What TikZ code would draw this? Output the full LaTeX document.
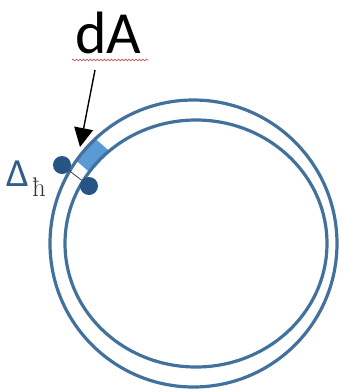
\documentclass[tikz,border=0pt]{standalone}
\usepackage{fontspec}
\newfontfamily\carlito{Carlito}
\newfontfamily\lmroman{Latin Modern Roman}
\usetikzlibrary{arrows.meta,decorations.pathmorphing}
\definecolor{ringblue}{RGB}{65,113,156}
\definecolor{dotblue}{RGB}{38,84,132}
\definecolor{rectblue}{RGB}{91,155,213}
\definecolor{deltablue}{RGB}{50,92,138}
\definecolor{squig}{RGB}{205,85,95}
\tikzset{
  ring/.style={draw=ringblue, line width=3.2bp},
  dotnode/.style={circle, fill=dotblue, minimum size=18bp, inner sep=0pt},
  pointer/.style={line width=1.4bp, -{Triangle[length=19bp,width=19bp]}},
}
\begin{document}
\begin{tikzpicture}[x=1bp,y=-1bp]
\useasboundingbox (0,0) rectangle (343,392);
% surface element
\fill[rectblue] (95.54,138.92) -- (109.08,150.78) -- (89.96,172.58) -- (76.42,160.72) -- cycle;
% rings
\draw[ring] (193.5,243.5) circle[radius=143.5];
\draw[ring] (196,243.5) ellipse[x radius=131, y radius=123.5];
% dots and thickness
\node[dotnode] (d1) at (62,165) {};
\node[dotnode] (d2) at (89,186) {};
\draw[line width=0.8bp, black!75] (d1) -- (d2);
% label dA
\node[anchor=base, inner sep=0pt, font=\carlito\fontsize{60}{60}\selectfont] (dA) at (108,53) {dA};
\draw[squig, line width=0.7bp, decorate, decoration={snake, amplitude=0.9bp, segment length=3.5bp}] (72,60) -- (148,60);
\coordinate (tip) at (80,147);
\draw[pointer] (95,70) -- (tip);
% Delta_hbar
\node[anchor=base west, inner sep=0pt, text=deltablue, font=\carlito\fontsize{40}{40}\selectfont] (delta) at (6,186) {Δ};
\node[anchor=base west, inner sep=0pt, text=black!80, font=\lmroman\fontsize{27}{27}\selectfont] (hb) at (32,196) {ħ};
\end{tikzpicture}
\end{document}
